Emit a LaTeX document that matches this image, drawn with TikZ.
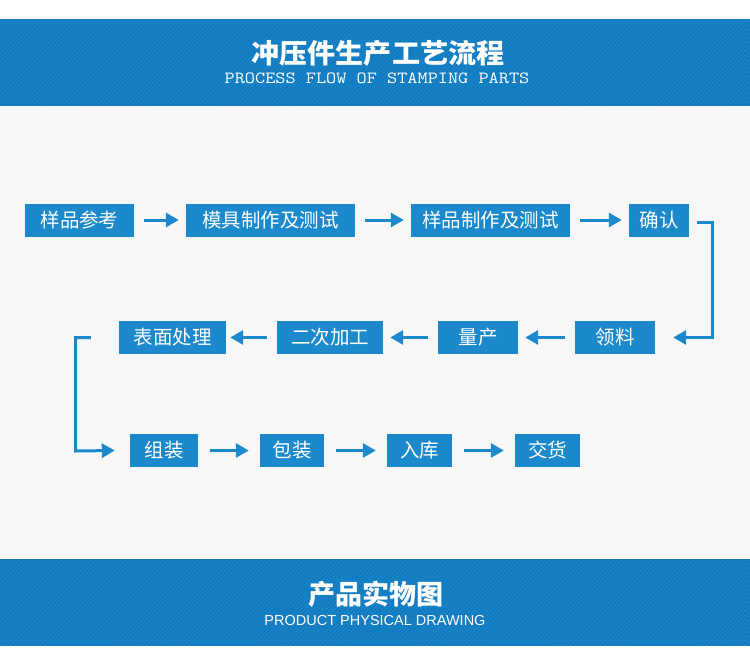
\documentclass[tikz,border=0pt]{standalone}
\usepackage{fontspec}
\usepackage{graphicx}
\newfontfamily\cjk{Noto Sans CJK SC}
\setsansfont{Liberation Sans}
\usetikzlibrary{arrows.meta, patterns.meta}
\definecolor{bandblue}{HTML}{0F7BC1}
\definecolor{stripeblue}{HTML}{2387C9}
\definecolor{boxblue}{HTML}{1B89CC}
\definecolor{pagegray}{HTML}{F8F8F8}
\tikzset{
    band/.style={fill=bandblue},
    stripes/.style={pattern={Lines[angle=45, distance=3pt, line width=0.8pt]}, pattern color=stripeblue},
    stepbox/.style={fill=boxblue, text=white, inner sep=0pt, minimum height=33pt, font=\cjk\fontsize{19.5}{20}\selectfont},
    flow/.style={-{Triangle[length=13pt, width=14pt]}, draw=boxblue, line width=3pt, shorten <=10pt, shorten >=7pt},
    % corner of a turning connector: square ends
    turn/.style={flow, line join=miter},
}

\begin{document}
\begin{tikzpicture}[x=1pt, y=-1pt]
    \useasboundingbox (0,0) rectangle (750,656);
    \fill[white] (0,0) rectangle (750,656);
    \fill[pagegray] (0,106) rectangle (750,559);

    % header
    \fill[band] (0,19) rectangle (750,106);
    \fill[stripes] (0,20) rectangle (750,105);
    \node[text=white, font=\cjk\bfseries\fontsize{27}{27}\selectfont] (title) at (378,53) {\scalebox{1.04}[1]{冲压件生产工艺流程}};
    \node[text=white, font=\ttfamily\fontsize{17}{17}\selectfont] (subtitle) at (377,78) {\scalebox{1.16}[1]{PROCESS FLOW OF STAMPING PARTS}};

    % first row
    \node[stepbox, minimum width=109pt] (yangpin) at (79.5,220) {样品参考};
    \node[stepbox, minimum width=169pt] (muju) at (270.5,220) {模具制作及测试};
    \node[stepbox, minimum width=159pt] (zhizuo) at (490.5,220) {样品制作及测试};
    \node[stepbox, minimum width=60pt] (queren) at (659,220) {确认};

    % second row
    \node[stepbox, minimum width=80pt] (lingliao) at (615,337.5) {领料};
    \node[stepbox, minimum width=80pt] (liangchan) at (478,337.5) {量产};
    \node[stepbox, minimum width=106pt] (erci) at (330,337.5) {二次加工};
    \node[stepbox, minimum width=107pt] (biaomian) at (172.5,337.5) {表面处理};

    % third row
    \node[stepbox, minimum width=68pt] (zuzhuang) at (164,450.5) {组装};
    \node[stepbox, minimum width=64pt] (baozhuang) at (292,450.5) {包装};
    \node[stepbox, minimum width=65pt] (ruku) at (419.5,450.5) {入库};
    \node[stepbox, minimum width=65pt] (jiaohuo) at (547.5,450.5) {交货};

    \draw[flow] (yangpin) -- (muju);
    \draw[flow] (muju) -- (zhizuo);
    \draw[flow] (zhizuo) -- (queren);

    \coordinate (rturn) at (712,337.5);
    \draw[turn, shorten <=0pt, shorten >=0pt] ([xshift=8pt, yshift=-2pt]queren.east) -| (rturn) -- ([xshift=18pt]lingliao.east);

    \draw[flow] (lingliao) -- (liangchan);
    \draw[flow] (liangchan) -- (erci);
    \draw[flow, shorten >=4pt] (erci) -- (biaomian);

    \coordinate (lturn) at (75.5,451);
    \draw[turn, shorten <=0pt, shorten >=0pt] ([xshift=-28pt]biaomian.west) -| (lturn) -- ([xshift=-15pt]zuzhuang.west);

    \draw[flow, shorten <=12pt, shorten >=11pt] (zuzhuang) -- (baozhuang);
    \draw[flow, shorten <=12pt, shorten >=11pt] (baozhuang) -- (ruku);
    \draw[flow, shorten <=12pt, shorten >=11pt] (ruku) -- (jiaohuo);

    % footer
    \fill[band] (0,559) rectangle (750,646);
    \fill[stripes] (0,560) rectangle (750,645);
    \node[text=white, font=\cjk\bfseries\fontsize{27}{27}\selectfont] (ftitle) at (376,594) {产品实物图};
    \node[text=white, font=\sffamily\fontsize{14.5}{14.5}\selectfont] (fsubtitle) at (375,621) {PRODUCT PHYSICAL DRAWING};
\end{tikzpicture}
\end{document}
